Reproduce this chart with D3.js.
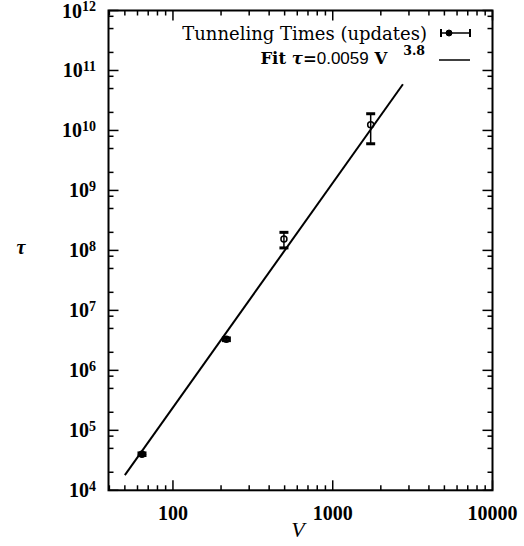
<!DOCTYPE html>
<html><head><meta charset="utf-8">
<script src="https://cdn.jsdelivr.net/npm/d3@7"></script>
<style>html,body{margin:0;padding:0;background:#fff;}svg{display:block;}</style>
</head><body>
<script>
// ---- data ----
const volumes = [64, 216, 495, 1728];
const tauValues = [4.0e4, 3.3e6, 1.55e8, 1.25e10];
const tauErrors = [0.2e4, 0.17e6, 0.45e8, 0.65e10];
const fitV = [50, 2750];
const fitTau = [1.79e4, 5.9e10];
const xTickValues = [100, 1000, 10000];
const yTickExponents = [4, 5, 6, 7, 8, 9, 10, 11, 12];
const xMinorMultipliers = [2, 3, 4, 5, 6, 7, 8, 9];
const yMinorMultipliers = [2, 5, 8];
const legendLabels = ["Tunneling Times (updates)", "Fit"];

const W = 524, H = 546;
const svg = d3.select("body").append("svg").attr("width", W).attr("height", H);
const L = 108.5, R = 492.5, T = 10.5, B = 490.3;
const x = d3.scaleLog().domain([39.5, 10000]).range([L, R]);
const y = d3.scaleLog().domain([1e4, 1e12]).range([B, T]);
const serif = "Liberation Serif, Times New Roman, serif";

// frame
svg.append("rect").attr("x", L).attr("y", T).attr("width", R - L).attr("height", B - T)
  .attr("fill", "none").attr("stroke", "#000").attr("stroke-width", 2);

const ticks = svg.append("g").attr("stroke", "#000").attr("stroke-width", 1.5);
// x ticks
const xMinor = [];
[10, 100, 1000].forEach(d => xMinorMultipliers.forEach(m => { const v = d * m; if (v >= 39.5 && v <= 10000) xMinor.push(v); }));
xTickValues.forEach(v => {
  ticks.append("line").attr("x1", x(v)).attr("x2", x(v)).attr("y1", B).attr("y2", B - 10);
  ticks.append("line").attr("x1", x(v)).attr("x2", x(v)).attr("y1", T).attr("y2", T + 10);
});
xMinor.forEach(v => {
  ticks.append("line").attr("x1", x(v)).attr("x2", x(v)).attr("y1", B).attr("y2", B - 5);
  ticks.append("line").attr("x1", x(v)).attr("x2", x(v)).attr("y1", T).attr("y2", T + 5);
});
// y ticks
yTickExponents.forEach(e => {
  const v = Math.pow(10, e);
  ticks.append("line").attr("x1", L).attr("x2", L + 10).attr("y1", y(v)).attr("y2", y(v));
  ticks.append("line").attr("x1", R).attr("x2", R - 10).attr("y1", y(v)).attr("y2", y(v));
  if (e < 12) yMinorMultipliers.forEach(m => {
    const mv = m * v;
    ticks.append("line").attr("x1", L).attr("x2", L + 5).attr("y1", y(mv)).attr("y2", y(mv));
    ticks.append("line").attr("x1", R).attr("x2", R - 5).attr("y1", y(mv)).attr("y2", y(mv));
  });
});

// tick labels
xTickValues.forEach(v => {
  svg.append("text").attr("x", x(v)).attr("y", 519.5).attr("text-anchor", "middle")
    .attr("font-family", serif).attr("font-size", 20).attr("font-weight", "bold").text(String(v));
});
yTickExponents.forEach(e => {
  const t = svg.append("text").attr("x", 96).attr("y", y(Math.pow(10, e)) + 7).attr("text-anchor", "end")
    .attr("font-family", serif).attr("font-size", 20).attr("font-weight", "bold");
  t.append("tspan").text("10");
  t.append("tspan").attr("dy", -6.5).attr("font-size", 14).text(String(e));
});

// axis titles
svg.append("text").attr("x", 298).attr("y", 537).attr("text-anchor", "middle")
  .attr("font-family", serif).attr("font-style", "italic").attr("font-size", 22).text("V");
svg.append("text").attr("x", 21).attr("y", 254).attr("text-anchor", "middle")
  .attr("font-family", serif).attr("font-style", "italic").attr("font-weight", "bold").attr("font-size", 20).text("τ");

// fit line
const line = d3.line().x((d, i) => x(fitV[i])).y((d, i) => y(fitTau[i]));
svg.append("path").attr("d", line(fitV)).attr("fill", "none").attr("stroke", "#000").attr("stroke-width", 2);

// data with error bars
const g = svg.append("g").attr("stroke", "#000");
volumes.forEach((v, i) => {
  const cx = x(v), lo = y(tauValues[i] - tauErrors[i]), hi = y(tauValues[i] + tauErrors[i]);
  g.append("line").attr("x1", cx).attr("x2", cx).attr("y1", lo).attr("y2", hi).attr("stroke-width", 1.5);
  g.append("line").attr("x1", cx - 4.5).attr("x2", cx + 4.5).attr("y1", lo).attr("y2", lo).attr("stroke-width", 3);
  g.append("line").attr("x1", cx - 4.5).attr("x2", cx + 4.5).attr("y1", hi).attr("y2", hi).attr("stroke-width", 3);
  g.append("circle").attr("cx", cx).attr("cy", y(tauValues[i])).attr("r", 3).attr("fill", "none").attr("stroke-width", 1.5);
});

// legend
const legFont = "DejaVu Serif, serif";
svg.append("text").attr("x", 427).attr("y", 40).attr("text-anchor", "end")
  .attr("font-family", legFont).attr("font-size", 18).text(legendLabels[0]);
const lg = svg.append("g").attr("stroke", "#000");
lg.append("line").attr("x1", 441).attr("x2", 470).attr("y1", 33).attr("y2", 33).attr("stroke-width", 1.5);
lg.append("line").attr("x1", 441).attr("x2", 441).attr("y1", 29).attr("y2", 37).attr("stroke-width", 2);
lg.append("line").attr("x1", 470).attr("x2", 470).attr("y1", 29).attr("y2", 37).attr("stroke-width", 2);
lg.append("circle").attr("cx", 449).attr("cy", 33).attr("r", 3).attr("fill", "#000").attr("stroke-width", 1);

const t2 = svg.append("text").attr("x", 425).attr("y", 64).attr("text-anchor", "end")
  .attr("font-family", legFont).attr("font-size", 16.5).attr("font-weight", "bold");
t2.append("tspan").text(legendLabels[1] + " ");
t2.append("tspan").attr("font-style", "italic").text("τ");
t2.append("tspan").text("=");
t2.append("tspan").attr("font-family", "Liberation Sans, Arial, sans-serif").attr("font-weight", "normal").attr("font-size", 17).text("0.0059");
t2.append("tspan").text(" V");
t2.append("tspan").attr("dx", 16).attr("dy", -9).attr("font-size", 12.5).text("3.8");
lg.append("line").attr("x1", 439).attr("x2", 470).attr("y1", 60).attr("y2", 60).attr("stroke-width", 1.5);
</script>
</body></html>
